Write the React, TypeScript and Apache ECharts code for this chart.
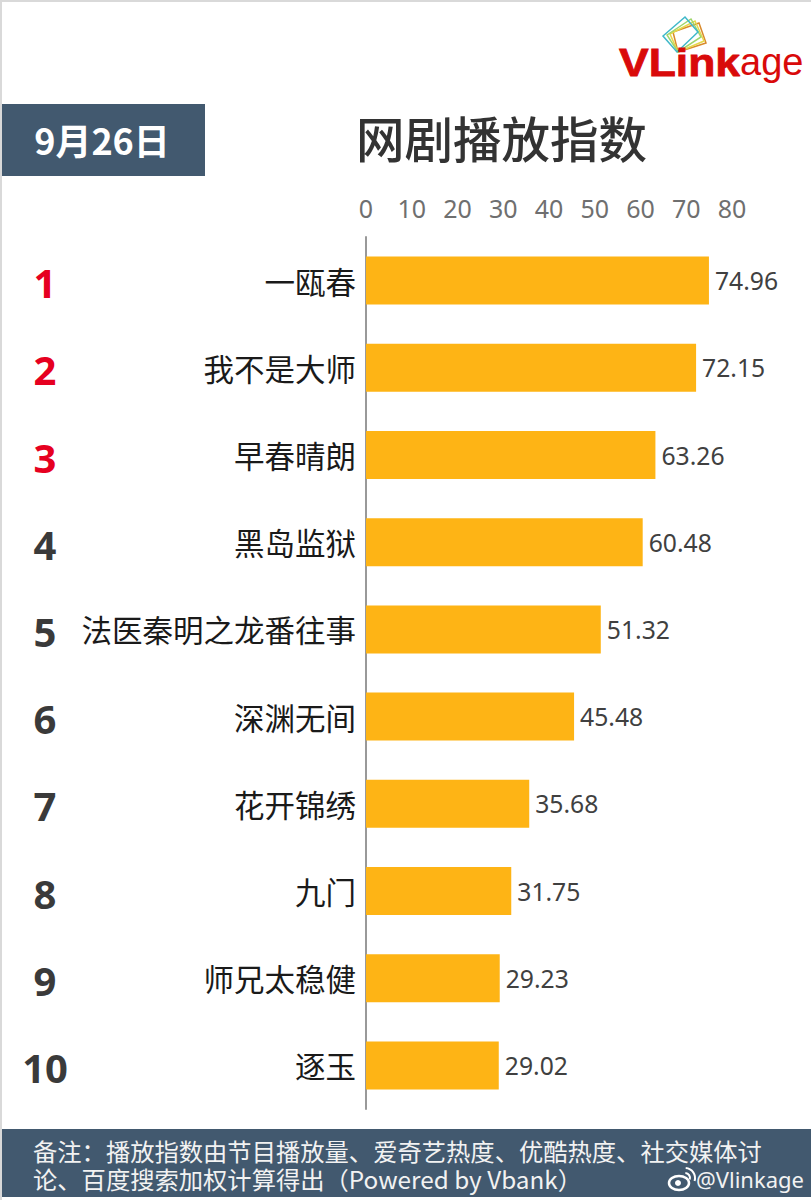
import { useEffect, useRef } from 'react'
import * as echarts from 'echarts'

const dramas = ['一瓯春', '我不是大师', '早春晴朗', '黑岛监狱', '法医秦明之龙番往事', '深渊无间', '花开锦绣', '九门', '师兄太稳健', '逐玉']
const ranks = ['1', '2', '3', '4', '5', '6', '7', '8', '9', '10']
const playIndex = [74.96, 72.15, 63.26, 60.48, 51.32, 45.48, 35.68, 31.75, 29.23, 29.02]

const CJK = '"Noto Sans CJK SC", "Noto Sans", sans-serif'
const LATIN = '"Noto Sans", "Noto Sans CJK SC", sans-serif'
const SLATE = '#42596f'

// rank numbers sit a little below the bar centre
const rankStyle = {
  fontSize: 40,
  fontWeight: 'bold' as const,
  fontFamily: LATIN,
  padding: [4, 0, 0, 0]
}

export default function App() {
  const chartRef = useRef<HTMLDivElement>(null)

  useEffect(() => {
    if (!chartRef.current) return

    const chart = echarts.init(chartRef.current, undefined, { renderer: 'svg' })

    const option: echarts.EChartsOption = {
      animation: false,
      backgroundColor: '#ffffff',
      grid: { left: 366, top: 237, width: 366, height: 872 },
      xAxis: {
        type: 'value',
        position: 'top',
        min: 0,
        max: 80,
        interval: 10,
        axisLine: { show: false },
        axisTick: { show: false },
        splitLine: { show: false },
        axisLabel: { color: '#6f6f6f', fontSize: 25, fontFamily: LATIN, margin: 17 }
      },
      yAxis: [
        {
          type: 'category',
          inverse: true,
          data: dramas,
          axisLine: { lineStyle: { color: '#999999', width: 2 } },
          axisTick: { show: false },
          axisLabel: {
            color: '#1a1a1a',
            fontSize: 30.5,
            fontFamily: CJK,
            margin: 10
          }
        },
        {
          type: 'category',
          inverse: true,
          position: 'left',
          data: ranks,
          axisLine: { show: false },
          axisTick: { show: false },
          axisLabel: {
            align: 'center',
            margin: 321,
            formatter: (value: string, index: number) => (index < 3 ? `{top|${value}}` : `{rest|${value}}`),
            rich: {
              top: { ...rankStyle, color: '#e60020' },
              rest: { ...rankStyle, color: '#3a3a3a' }
            }
          }
        }
      ],
      series: [
        {
          name: '播放指数',
          type: 'bar',
          yAxisIndex: 0,
          data: playIndex,
          barWidth: 48,
          itemStyle: { color: '#feb415' },
          label: {
            show: true,
            position: 'right',
            distance: 6,
            color: '#404040',
            fontSize: 24.7,
            fontFamily: LATIN,
            formatter: (p: any) => p.value.toFixed(2)
          }
        }
      ],
      graphic: [
        // page edge
        { type: 'rect', shape: { x: 0, y: 0, width: 811, height: 2 }, style: { fill: '#d9d9d9' } },
        { type: 'rect', shape: { x: 0, y: 0, width: 2, height: 1200 }, style: { fill: '#d9d9d9' } },

        // date box + title
        { type: 'rect', shape: { x: 2, y: 104, width: 203, height: 72 }, style: { fill: SLATE } },
        {
          type: 'text',
          x: 102,
          y: 139,
          style: { text: '9月26日', fill: '#ffffff', font: `bold 36px ${CJK}`, align: 'center', verticalAlign: 'middle' }
        },
        {
          type: 'text',
          x: 356,
          y: 137,
          style: { text: '网剧播放指数', fill: '#333333', font: `500 48.5px ${CJK}`, align: 'left', verticalAlign: 'middle' }
        },

        // logo
        { type: 'polygon', shape: { points: [[673, 32], [699, 23], [706, 43], [678, 52]] }, style: { fill: 'none', stroke: '#d98a2b', lineWidth: 1.5 } },
        { type: 'polygon', shape: { points: [[670, 34], [695, 21], [704, 41], [678, 52]] }, style: { fill: 'none', stroke: '#e6d84a', lineWidth: 1.5 } },
        { type: 'polygon', shape: { points: [[667, 35], [691, 19], [701, 37], [678, 52]] }, style: { fill: 'none', stroke: '#9fd66b', lineWidth: 1.5 } },
        { type: 'polygon', shape: { points: [[663, 36], [685, 17], [698, 32], [677, 52]] }, style: { fill: 'none', stroke: '#3fb8c9', lineWidth: 1.5 } },
        {
          type: 'text',
          x: 619,
          y: 62,
          scaleX: 1.14,
          style: {
            text: 'VLink',
            fill: '#d90a0a',
            stroke: '#d90a0a',
            lineWidth: 0.8,
            font: 'bold 39px "Liberation Sans", sans-serif',
            align: 'left',
            verticalAlign: 'middle'
          }
        },
        {
          type: 'text',
          x: 740,
          y: 62,
          style: {
            text: 'age',
            fill: '#d90a0a',
            font: '38px "Liberation Sans", sans-serif',
            align: 'left',
            verticalAlign: 'middle'
          }
        },

        // footer
        { type: 'rect', shape: { x: 2, y: 1129, width: 809, height: 68 }, style: { fill: SLATE } },
        {
          type: 'text',
          x: 33,
          y: 1164,
          style: {
            text: '备注：播放指数由节目播放量、爱奇艺热度、优酷热度、社交媒体讨\n论、百度搜索加权计算得出（Powered by Vbank）',
            fill: '#f2f2f2',
            font: `24.3px ${CJK}`,
            lineHeight: 28,
            align: 'left',
            verticalAlign: 'middle'
          }
        },

        // weibo mark
        { type: 'ellipse', shape: { cx: 679, cy: 1183, rx: 10, ry: 7 }, style: { fill: 'none', stroke: '#ffffff', lineWidth: 2.5 } },
        { type: 'circle', shape: { cx: 678, cy: 1183, r: 3 }, style: { fill: '#ffffff' } },
        { type: 'arc', shape: { cx: 685, cy: 1178, r: 10, startAngle: -1.5, endAngle: 0.3 }, style: { fill: 'none', stroke: '#ffffff', lineWidth: 2 } },
        { type: 'arc', shape: { cx: 685, cy: 1178, r: 5, startAngle: -1.5, endAngle: 0.3 }, style: { fill: 'none', stroke: '#ffffff', lineWidth: 2 } },
        {
          type: 'text',
          x: 804,
          y: 1179,
          style: {
            text: '@Vlinkage',
            fill: '#f2f2f2',
            font: `22px ${LATIN}`,
            lineHeight: 24,
            align: 'right',
            verticalAlign: 'middle'
          }
        }
      ]
    }

    chart.setOption(option)

    return () => {
      chart.dispose()
    }
  }, [])

  return <div ref={chartRef} style={{ position: 'absolute', left: 0, top: 0, width: 811, height: 1200 }} />
}
